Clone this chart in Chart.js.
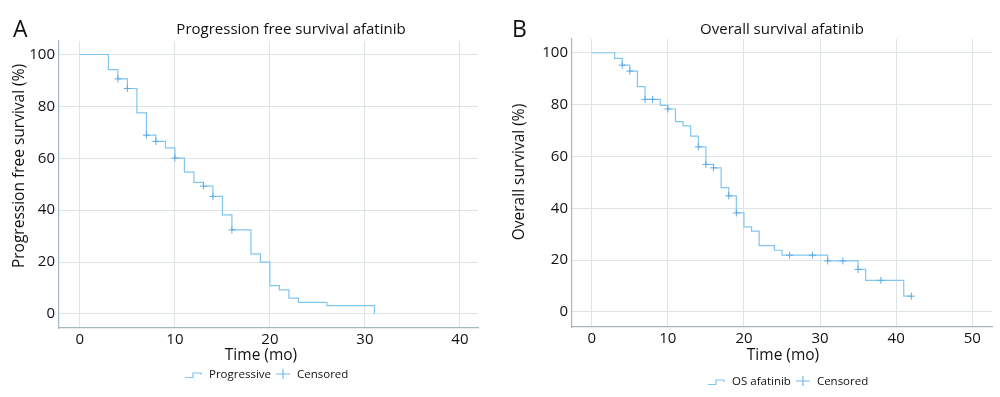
<!DOCTYPE html>
<html><head><meta charset="utf-8">
<script src="https://cdn.jsdelivr.net/npm/chart.js@4"></script>
<style>
html,body{margin:0;padding:0;background:#fff;}
#wrap{position:relative;width:1000px;height:397px;overflow:hidden;}
.panel{position:absolute;top:0;width:500px;height:397px;}
</style></head><body>
<div id="wrap">
<div class="panel" style="left:0"><canvas id="cA" width="500" height="397"></canvas></div>
<div class="panel" style="left:500px"><canvas id="cB" width="500" height="397"></canvas></div>
</div>
<script>
// ---- Data ----
const pfsTimes  = [0, 3, 4, 5, 6, 7, 8, 9, 10, 11, 12, 13, 14, 15, 16, 18, 19, 20, 21, 22, 23, 26, 31];
const pfsValues = [100, 94.2, 90.6, 86.9, 77.5, 68.9, 66.5, 64.0, 60.1, 54.7, 50.7, 49.3, 45.3, 38.2, 32.4, 23.2, 20.0, 10.9, 9.3, 6.1, 4.5, 3.2, 0];
const pfsCensorTimes  = [4, 5, 7, 8, 10, 13, 14, 16];
const pfsCensorValues = [90.6, 86.9, 68.9, 66.5, 60.1, 49.3, 45.3, 32.4];

const osTimes  = [0, 3, 4, 5, 6, 7, 9, 10, 11, 12, 13, 14, 15, 16, 17, 18, 19, 20, 21, 22, 24, 25, 31, 35, 36, 41, 42];
const osValues = [100, 97.8, 95.2, 92.9, 86.9, 82.0, 79.7, 78.3, 73.4, 71.8, 67.8, 63.7, 56.9, 55.6, 48.0, 44.8, 38.2, 32.8, 31.2, 25.6, 23.8, 21.9, 19.7, 16.4, 12.2, 6.1, 6.1];
const osCensorTimes  = [4, 5, 7, 8, 10, 14, 15, 16, 18, 19, 26, 29, 31, 33, 35, 38, 42];
const osCensorValues = [95.2, 92.9, 82.0, 82.0, 78.3, 63.7, 56.9, 55.6, 44.8, 38.2, 21.9, 21.9, 19.7, 19.7, 16.4, 12.2, 6.1];

const xTicksA = [0, 10, 20, 30, 40];
const xTicksB = [0, 10, 20, 30, 40, 50];
const yTicks  = [0, 20, 40, 60, 80, 100];

const titleA = 'Progression free survival afatinib';
const titleB = 'Overall survival afatinib';
const yTitleA = 'Progression free survival (%)';
const yTitleB = 'Overall survival (%)';
const xTitle = 'Time (mo)';
const legendA = ['Progressive', 'Censored'];
const legendB = ['OS afatinib', 'Censored'];

// ---- Styles ----
const FONT = '"Open Sans", "Noto Sans", sans-serif';
const LINE = 'rgb(130,198,240)';
const CENS = 'rgb(95,170,230)';
const GRID = '#dde4e6';
const AXIS = '#a7b6bc';
const TEXT = '#111111';

const pts = (xs, ys) => xs.map((x, i) => ({x: x, y: ys[i]}));

const overlay = {
  id: 'overlay',
  afterDraw(chart, args, o) {
    const ctx = chart.ctx;
    ctx.save();
    ctx.fillStyle = TEXT;
    // panel letter
    ctx.font = '23px ' + FONT;
    ctx.textAlign = 'left'; ctx.textBaseline = 'alphabetic';
    ctx.fillText(o.letter, o.letterX, o.letterY);
    // title
    ctx.font = '15px ' + FONT;
    ctx.textAlign = 'center'; ctx.textBaseline = 'middle';
    ctx.fillText(o.title, o.titleX, o.titleY);
    // x axis title
    ctx.font = '15.5px ' + FONT;
    ctx.fillText(o.xTitle, o.xTitleX, o.xTitleY);
    // y axis title
    ctx.save();
    ctx.translate(o.yTitleX, o.yTitleY);
    ctx.rotate(-Math.PI / 2);
    ctx.font = '15.5px ' + FONT;
    ctx.fillText(o.yTitle, 0, 0);
    ctx.restore();
    // legend
    const lx = o.legX, ly = o.legY;
    ctx.strokeStyle = LINE; ctx.lineWidth = 1.2;
    ctx.beginPath();
    ctx.moveTo(lx, ly + 2.5); ctx.lineTo(lx + 8, ly + 2.5); ctx.lineTo(lx + 8, ly - 2); ctx.lineTo(lx + 16, ly - 2); ctx.lineTo(lx + 16, ly);
    ctx.stroke();
    ctx.font = '11.5px ' + FONT;
    ctx.textAlign = 'left'; ctx.textBaseline = 'middle';
    ctx.fillText(o.leg[0], lx + 24, ly);
    const w0 = ctx.measureText(o.leg[0]).width;
    const px = lx + 24 + w0 + 12;
    ctx.strokeStyle = 'rgb(120,185,238)';
    ctx.beginPath();
    ctx.moveTo(px - 7, ly - 1); ctx.lineTo(px + 7, ly - 1);
    ctx.moveTo(px, ly - 6); ctx.lineTo(px, ly + 4);
    ctx.stroke();
    ctx.fillText(o.leg[1], px + 14, ly);
    ctx.restore();
  }
};

function build(id, cfg) {
  return new Chart(document.getElementById(id), {
    type: 'line',
    data: {
      datasets: [
        {label: cfg.leg[0], data: pts(cfg.t, cfg.v), stepped: 'before', borderColor: LINE, borderWidth: 1.2,
         pointRadius: 0, fill: false, order: 2},
        {label: cfg.leg[1], type: 'scatter', data: pts(cfg.ct, cfg.cv), pointStyle: 'cross', pointRadius: 3.5,
         borderColor: CENS, backgroundColor: CENS, borderWidth: 1, showLine: false, order: 1}
      ]
    },
    options: {
      responsive: false, animation: false,
      layout: {padding: cfg.pad},
      plugins: {
        legend: {display: false}, title: {display: false}, tooltip: {enabled: false},
        overlay: cfg.ov
      },
      scales: {
        x: {
          type: 'linear', min: cfg.xmin, max: cfg.xmax,
          afterBuildTicks: s => { s.ticks = cfg.xt.map(v => ({value: v})); },
          afterFit: s => { s.height = cfg.xh; },
          grid: {color: GRID, drawTicks: false, lineWidth: 1},
          border: {color: AXIS, width: 1.2},
          ticks: {font: {family: FONT, size: 15}, color: TEXT, padding: 3, maxRotation: 0, autoSkip: false}
        },
        y: {
          type: 'linear', min: cfg.ymin, max: cfg.ymax,
          afterBuildTicks: s => { s.ticks = yTicks.map(v => ({value: v})); },
          afterFit: s => { s.width = cfg.yw; },
          grid: {color: GRID, drawTicks: false, lineWidth: 1},
          border: {color: AXIS, width: 1.2},
          ticks: {font: {family: FONT, size: 15}, color: TEXT, padding: 4, autoSkip: false}
        }
      }
    },
    plugins: [overlay]
  });
}

build('cA', {
  t: pfsTimes, v: pfsValues, ct: pfsCensorTimes, cv: pfsCensorValues, leg: legendA,
  xt: xTicksA, xmin: -2.2, xmax: 41.9, ymin: -5.4, ymax: 105.2,
  pad: {left: 0, top: 41, right: 22, bottom: 0}, xh: 69, yw: 59,
  ov: {letter: 'A', letterX: 13, letterY: 37, title: titleA, titleX: 291, titleY: 30,
       xTitle: xTitle, xTitleX: 261, xTitleY: 356, yTitle: yTitleA, yTitleX: 20, yTitleY: 166,
       leg: legendA, legX: 185, legY: 375}
});

build('cB', {
  t: osTimes, v: osValues, ct: osCensorTimes, cv: osCensorValues, leg: legendB,
  xt: xTicksB, xmin: -2.6, xmax: 52.6, ymin: -5.8, ymax: 105.3,
  pad: {left: 0, top: 39, right: 8, bottom: 0}, xh: 70, yw: 72,
  ov: {letter: 'B', letterX: 12, letterY: 37, title: titleB, titleX: 282, titleY: 30,
       xTitle: xTitle, xTitleX: 283, xTitleY: 356, yTitle: yTitleB, yTitleX: 20, yTitleY: 172,
       leg: legendB, legX: 208, legY: 382}
});
</script>
</body></html>
